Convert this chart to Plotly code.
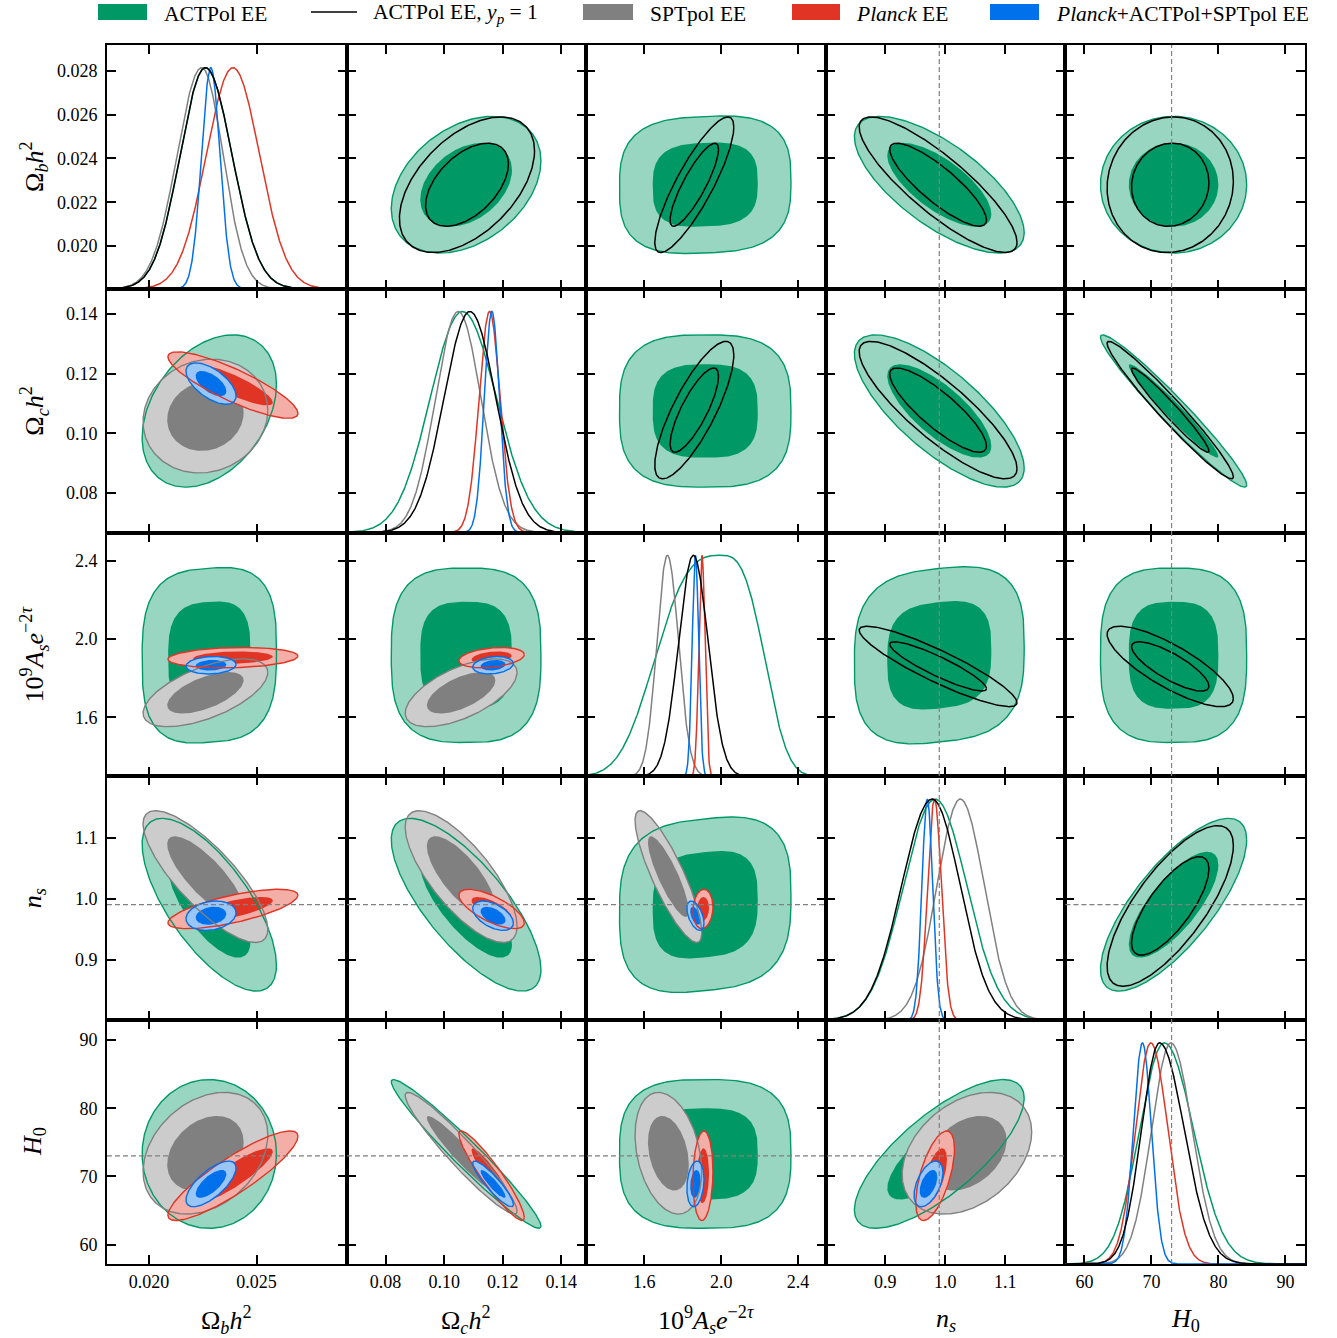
import numpy as np
import plotly.graph_objects as go
from plotly.subplots import make_subplots

FONT = "Liberation Serif"

# ---------------- axes ----------------
param_titles = [
    "Ω<sub><i>b</i></sub><i>h</i><sup>2</sup>",
    "Ω<sub><i>c</i></sub><i>h</i><sup>2</sup>",
    "10<sup>9</sup><i>A</i><sub><i>s</i></sub><i>e</i><sup>−2<i>τ</i></sup>",
    "<i>n</i><sub><i>s</i></sub>",
    "<i>H</i><sub>0</sub>",
]
axis_ranges = [[0.01804, 0.02919], [0.0667, 0.1485], [1.297, 2.545], [0.801, 1.200], [57.15, 92.92]]
x_ticks = [[0.020, 0.025], [0.08, 0.10, 0.12, 0.14], [1.6, 2.0, 2.4], [0.9, 1.0, 1.1], [60, 70, 80, 90]]
y_ticks = [[0.020, 0.022, 0.024, 0.026, 0.028], [0.08, 0.10, 0.12, 0.14], [1.6, 2.0, 2.4], [0.9, 1.0, 1.1], [60, 70, 80, 90]]
tick_formats = [".3f", ".2f", ".1f", ".1f", ".0f"]
ref_ns = 0.99
ref_H0 = 73.0

# ---------------- data ----------------
# order: ombh2, omch2, 1e9 As e^-2tau, ns, H0
# ACTPol EE
actpol_mean = [0.0228, 0.1075, 1.917, 0.990, 73.3]
actpol_sigma = [0.00126, 0.0103, 0.180, 0.057, 4.4]
actpol_box = [2, 2, 3, 2, 2]
actpol_corr = [
    [1.0, 0.35, 0.05, -0.70, 0.00],
    [0.35, 1.0, 0.00, -0.75, -0.97],
    [0.05, 0.00, 1.0, 0.10, 0.00],
    [-0.70, -0.75, 0.10, 1.0, 0.75],
    [0.00, -0.97, 0.00, 0.75, 1.0],
]
actpol_mu1d = [0.02262, 0.1062, 2.000, 0.983, 71.9]
actpol_lo1d = [0.00118, 0.0110, 0.320, 0.053, 3.7]
actpol_hi1d = [0.00124, 0.0117, 0.210, 0.053, 4.4]
actpol_pow1d = [2, 2, 3, 2, 2]

# ACTPol EE, y_p = 1
yp1_mean = [0.0228, 0.1078, 1.860, 0.988, 72.8]
yp1_sigma = [0.00125, 0.0093, 0.083, 0.053, 3.8]
yp1_corr = [
    [1.0, 0.50, 0.85, -0.85, 0.05],
    [0.50, 1.0, 0.80, -0.85, -0.97],
    [0.85, 0.80, 1.0, -0.90, -0.80],
    [-0.85, -0.85, -0.90, 1.0, 0.75],
    [0.05, -0.97, -0.80, 0.75, 1.0],
]
yp1_mu1d = [0.02262, 0.1088, 1.855, 0.978, 71.2]
yp1_lo1d = [0.00118, 0.0089, 0.077, 0.051, 2.7]
yp1_hi1d = [0.00124, 0.0089, 0.077, 0.047, 3.7]

# SPTpol EE
spt_mean = [0.02262, 0.1058, 1.725, 1.036, 73.4]
spt_sigma = [0.00117, 0.0077, 0.070, 0.0435, 3.6]
spt_corr = [
    [1.0, 0.10, 0.60, -0.80, 0.30],
    [0.10, 1.0, 0.60, -0.75, -0.95],
    [0.60, 0.60, 1.0, -0.85, -0.30],
    [-0.80, -0.75, -0.85, 1.0, 0.35],
    [0.30, -0.95, -0.30, 0.35, 1.0],
]
spt_mu1d = [0.02245, 0.1048, 1.720, 1.025, 72.9]
spt_lo1d = [0.00115, 0.0078, 0.055, 0.039, 2.9]
spt_hi1d = [0.00099, 0.0078, 0.058, 0.040, 3.2]

# Planck EE
planck_mean = [0.0239, 0.1162, 1.905, 0.983, 70.1]
planck_sigma = [0.00122, 0.0045, 0.021, 0.013, 2.65]
planck_corr = [
    [1.0, -0.85, 0.15, 0.70, 0.88],
    [-0.85, 1.0, 0.30, -0.70, -0.93],
    [0.15, 0.30, 1.0, 0.10, 0.10],
    [0.70, -0.70, 0.10, 1.0, 0.60],
    [0.88, -0.93, 0.10, 0.60, 1.0],
]
planck_mu1d = [0.0239, 0.1155, 1.900, 0.982, 69.9]
planck_lo1d = [0.00124, 0.0036, 0.016, 0.0115, 2.3]
planck_hi1d = [0.00124, 0.0036, 0.016, 0.0115, 2.55]

# Planck+ACTPol+SPTpol EE
comb_mean = [0.02288, 0.1167, 1.866, 0.972, 68.9]
comb_sigma = [0.00047, 0.0028, 0.018, 0.0097, 1.35]
comb_corr = [
    [1.0, -0.60, 0.10, 0.20, 0.70],
    [-0.60, 1.0, 0.20, -0.50, -0.90],
    [0.10, 0.20, 1.0, -0.50, 0.20],
    [0.20, -0.50, -0.50, 1.0, 0.50],
    [0.70, -0.90, 0.20, 0.50, 1.0],
]
comb_mu1d = [0.02287, 0.1163, 1.866, 0.970, 68.65]
comb_lo1d = [0.00043, 0.0026, 0.017, 0.009, 1.35]
comb_hi1d = [0.00043, 0.0026, 0.017, 0.009, 1.35]

# ---------------- styles ----------------
GREEN, GREEN_L = "#009966", "#99d6c2"
GRAY, GRAY_L = "#808080", "#cccccc"
RED, RED_L = "#e03424", "#f3aea7"
BLUE, BLUE_L = "#0070eb", "#99c6f7"
LEVELS = [2.48, 1.52]

actpol = dict(mean=actpol_mean, sigma=actpol_sigma, corr=actpol_corr, box=actpol_box,
              dark=GREEN, light=GREEN_L, mu=actpol_mu1d, lo=actpol_lo1d, hi=actpol_hi1d, pw=actpol_pow1d)
spt = dict(mean=spt_mean, sigma=spt_sigma, corr=spt_corr, box=[2] * 5,
           dark=GRAY, light=GRAY_L, mu=spt_mu1d, lo=spt_lo1d, hi=spt_hi1d, pw=[2] * 5)
planck = dict(mean=planck_mean, sigma=planck_sigma, corr=planck_corr, box=[2] * 5,
              dark=RED, light=RED_L, mu=planck_mu1d, lo=planck_lo1d, hi=planck_hi1d, pw=[2] * 5)
comb = dict(mean=comb_mean, sigma=comb_sigma, corr=comb_corr, box=[2] * 5,
            dark=BLUE, light=BLUE_L, mu=comb_mu1d, lo=comb_lo1d, hi=comb_hi1d, pw=[2] * 5)
yp1 = dict(mean=yp1_mean, sigma=yp1_sigma, corr=yp1_corr, box=[2] * 5,
           dark="black", light="black", mu=yp1_mu1d, lo=yp1_lo1d, hi=yp1_hi1d, pw=[2] * 5)


def contour(ds, ix, iy, level, n=260):
    mx, my = ds["mean"][ix], ds["mean"][iy]
    sx, sy = ds["sigma"][ix], ds["sigma"][iy]
    rho = ds["corr"][iy][ix]
    p = max(ds["box"][ix], ds["box"][iy])
    t = np.linspace(0, 2 * np.pi, n)
    c, s = np.cos(t), np.sin(t)
    u = np.sign(c) * np.abs(c) ** (2.0 / p)
    v = np.sign(s) * np.abs(s) ** (2.0 / p)
    x = mx + level * sx * u
    y = my + level * sy * (rho * u + np.sqrt(1 - rho ** 2) * v)
    return x, y


def density(ds, k, grid):
    mu = ds["mu"][k]
    s = np.where(grid < mu, ds["lo"][k], ds["hi"][k])
    z = np.abs(grid - mu) / s
    return np.exp(-0.5 * z ** ds["pw"][k])


fig = make_subplots(rows=5, cols=5, horizontal_spacing=0, vertical_spacing=0)


def add_fill(ds, ix, iy, r, c):
    for lev, col in zip(LEVELS, [ds["light"], ds["dark"]]):
        x, y = contour(ds, ix, iy, lev)
        fig.add_trace(go.Scatter(x=x, y=y, mode="lines", fill="toself", fillcolor=col,
                                 line=dict(width=0, color=col), showlegend=False, hoverinfo="skip"),
                      row=r, col=c)


def add_line(ds, ix, iy, r, c, levels, color, width=1.4):
    for lev in levels:
        x, y = contour(ds, ix, iy, lev)
        fig.add_trace(go.Scatter(x=x, y=y, mode="lines", line=dict(width=width, color=color),
                                 showlegend=False, hoverinfo="skip"), row=r, col=c)


for r in range(5):
    for c in range(5):
        R, C = r + 1, c + 1
        if r == c:
            lo, hi = axis_ranges[c]
            grid = np.linspace(lo, hi, 600)
            for ds in [actpol, spt, planck, comb, yp1]:
                f = density(ds, c, grid)
                fig.add_trace(go.Scatter(x=grid, y=lo + f * (hi - lo) * 0.907, mode="lines",
                                         line=dict(color=ds["dark"], width=1.5),
                                         showlegend=False, hoverinfo="skip"), row=R, col=C)
        elif r > c:
            for ds in [actpol, spt, planck, comb]:
                add_fill(ds, c, r, R, C)
            for ds in [actpol, spt, planck, comb]:
                add_line(ds, c, r, R, C, [LEVELS[0]], ds["dark"])
        else:
            add_fill(actpol, c, r, R, C)
            add_line(actpol, c, r, R, C, [LEVELS[0]], GREEN)
            add_line(yp1, c, r, R, C, LEVELS, "black", 1.5)

        fig.update_xaxes(range=axis_ranges[c], tickvals=x_ticks[c],
                         ticktext=[format(v, tick_formats[c]) for v in x_ticks[c]],
                         showticklabels=(r == 4), row=R, col=C)
        fig.update_yaxes(range=axis_ranges[r], tickvals=y_ticks[r],
                         ticktext=[format(v, tick_formats[r]) for v in y_ticks[r]],
                         showticklabels=(c == 0), row=R, col=C)

common = dict(showline=True, linewidth=2, linecolor="black", mirror="ticks", ticks="inside",
              ticklen=9, tickwidth=1.5, tickcolor="black", showgrid=False, zeroline=False,
              tickfont=dict(family=FONT, size=18, color="black"))
fig.update_xaxes(**common)
fig.update_yaxes(ticklabelstandoff=4, **common)

# reference lines
dash = dict(color="#808080", width=1.2, dash="5px,3px")
fig.add_shape(type="line", xref="x4", yref="paper", x0=ref_ns, x1=ref_ns, y0=0, y1=1, line=dash)
fig.add_shape(type="line", xref="x5", yref="paper", x0=ref_H0, x1=ref_H0, y0=0, y1=1, line=dash)
for a, b in [(0, 0.6), (0.8, 1.0)]:
    fig.add_shape(type="line", xref="paper", yref="y16", x0=a, x1=b, y0=ref_ns, y1=ref_ns, line=dash)
fig.add_shape(type="line", xref="paper", yref="y21", x0=0, x1=0.8, y0=ref_H0, y1=ref_H0, line=dash)

# axis titles
PW, PH, L0, B0 = 1198.0, 1219.0, 107.0, 1264.0
def px(x): return (x - L0) / PW
def py(y): return (B0 - y) / PH

for k in range(5):
    fig.add_annotation(text=param_titles[k], x=(k + 0.5) / 5, y=py(1320), xref="paper", yref="paper",
                       showarrow=False, xanchor="center", yanchor="middle",
                       font=dict(family=FONT, size=26, color="black"))
    fig.add_annotation(text=param_titles[k], x=px(34), y=1 - (k + 0.5) / 5, xref="paper", yref="paper",
                       showarrow=False, xanchor="center", yanchor="middle", textangle=-90,
                       font=dict(family=FONT, size=26, color="black"))

# legend (manual)
legend_items = [
    ("rect", GREEN, 98, 147, "ACTPol EE", 163),
    ("line", "black", 311, 357, "ACTPol EE, <i>y</i><sub><i>p</i></sub> = 1", 372),
    ("rect", GRAY, 583, 633, "SPTpol EE", 649),
    ("rect", RED, 792, 840, "<i>Planck</i> EE", 855),
    ("rect", BLUE, 990, 1039, "<i>Planck</i>+ACTPol+SPTpol EE", 1055),
]
for kind, col, x0, x1, txt, tx in legend_items:
    if kind == "rect":
        fig.add_shape(type="rect", xref="paper", yref="paper", x0=px(x0), x1=px(x1), y0=py(20), y1=py(4),
                      fillcolor=col, line=dict(width=0))
    else:
        fig.add_shape(type="line", xref="paper", yref="paper", x0=px(x0), x1=px(x1), y0=py(12), y1=py(12),
                      line=dict(color=col, width=1.5))
    fig.add_annotation(text=txt, x=px(tx), y=py(14), xref="paper", yref="paper", showarrow=False,
                       xanchor="left", yanchor="middle", borderpad=0,
                       font=dict(family=FONT, size=21.5, color="black"))

fig.update_layout(width=1337, height=1338, autosize=False,
                  margin=dict(l=107, r=32, t=45, b=74),
                  plot_bgcolor="white", paper_bgcolor="white", showlegend=False,
                  font=dict(family=FONT, color="black"))

fig.write_html("out.html", config={"displayModeBar": False},
               post_script="document.body.style.margin='0px';document.body.style.padding='0px';document.body.style.overflow='hidden';")
